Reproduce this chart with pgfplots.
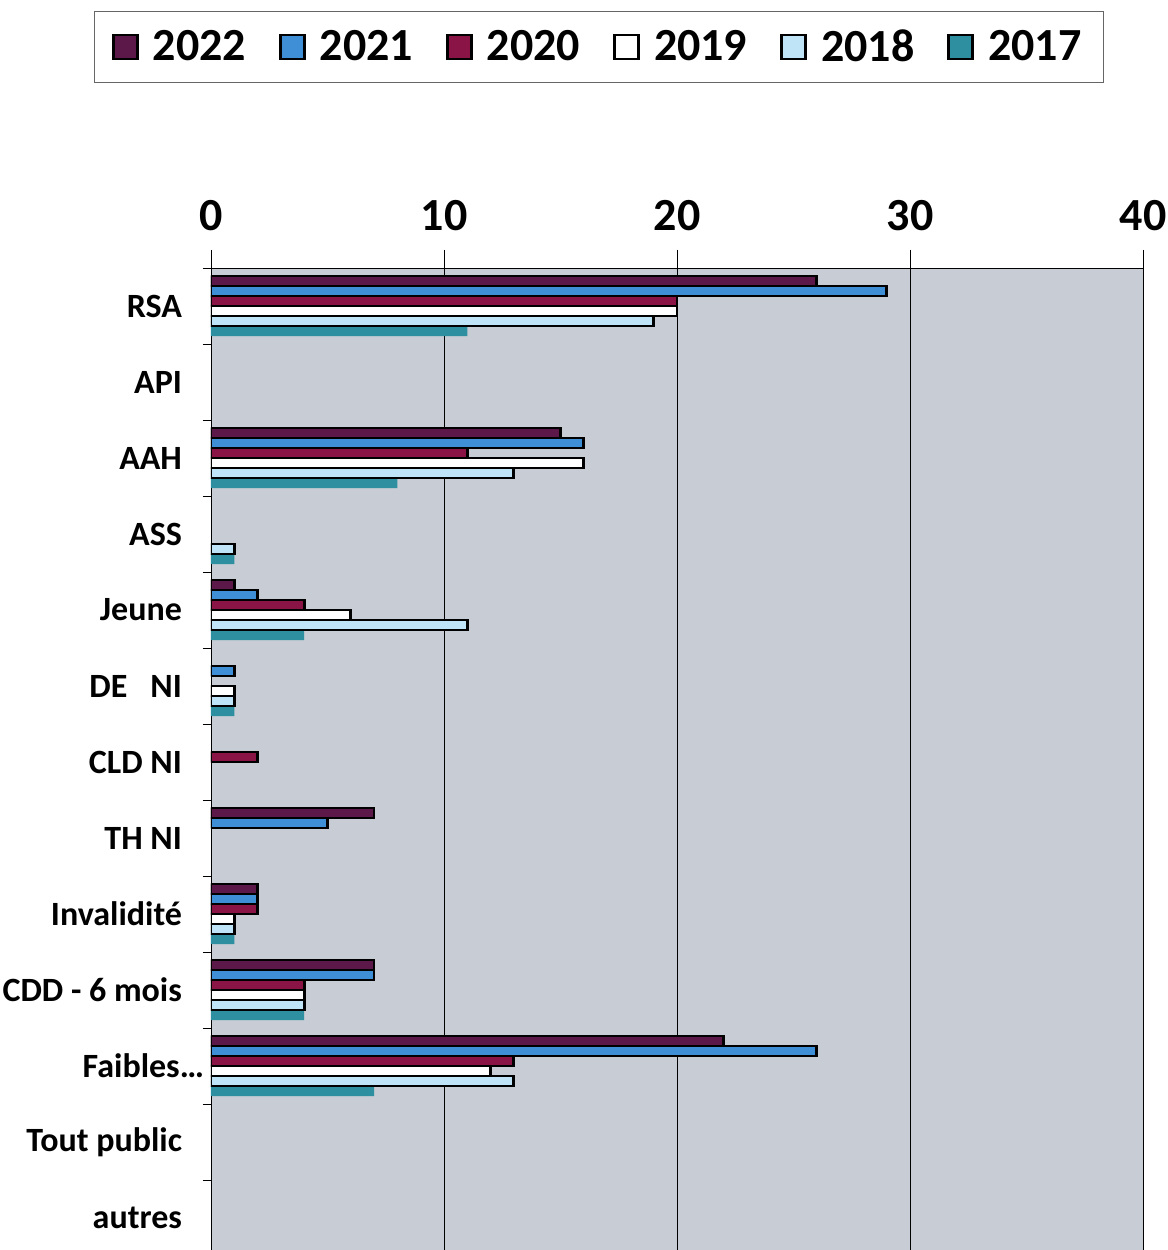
\documentclass[border=0pt]{standalone}
\usepackage{pgfplots}
\pgfplotsset{compat=1.18}
\usepackage{fontspec}
\setmainfont{Carlito}

\definecolor{c2022}{RGB}{92,24,72}
\definecolor{c2021}{RGB}{62,143,214}
\definecolor{c2020}{RGB}{138,20,70}
\definecolor{c2019}{RGB}{255,255,255}
\definecolor{c2018}{RGB}{191,227,247}
\definecolor{c2017}{RGB}{46,143,160}
\definecolor{plotbg}{RGB}{200,204,212}

\begin{document}
\begin{tikzpicture}
\path[use as bounding box] (0pt,0pt) rectangle (584pt,625pt);
\begin{axis}[
  at={(105.5pt,0pt)}, anchor=south west,
  width=466pt, height=491pt, scale only axis,
  xbar=0pt, bar width=5pt,
  xmin=0, xmax=40, ymin=-0.42, ymax=12.5,
  axis x line=top, axis y line=left,
  axis line style={-, black, thin},
  axis background/.style={fill=plotbg},
  xtick={0,10,20,30,40},
  xmajorgrids, grid style={black, thin},
  tick align=outside,
  major tick length=9pt, minor tick length=4pt,
  xticklabel style={font=\fontsize{23}{26}\selectfont\bfseries, yshift=6pt},
  /pgf/number format/assume math mode=true,
  ytick={0,...,12},
  yticklabels={autres, Tout public, Faibles…\kern-11pt, CDD - 6 mois, Invalidité, TH NI, CLD NI, DE\ \ \ NI, Jeune, ASS, AAH, API, RSA},
  yticklabel style={font=\fontsize{17}{20}\selectfont\bfseries, xshift=-2pt},
  major y tick style={draw=none},
  minor ytick={0.5,1.5,...,12.5},
  minor y tick style={black, thin},
  x tick style={black, thin},
  reverse legend,
  legend columns=6,
  legend style={at={(0.416,1.225)}, anchor=center, draw=black!60, fill=white,
    font=\fontsize{23}{26}\selectfont\bfseries, inner xsep=9pt, inner ysep=7pt,
    /tikz/every odd column/.append style={column sep=5pt},
    /tikz/every even column/.append style={column sep=14.5pt}},
  legend image code/.code={\draw[#1] (0pt,-6pt) rectangle (12pt,6pt);},
  every axis plot/.append style={line width=1.4pt},
]
% 2017
\addplot[fill=c2017, draw=none] coordinates {
  (11,12) (8,10) (1,9) (4,8) (1,7) (1,4) (4,3) (7,2)};
\addlegendentry{2017}
% 2018
\addplot[fill=c2018, draw=black] coordinates {
  (19,12) (13,10) (1,9) (11,8) (1,7) (1,4) (4,3) (13,2)};
\addlegendentry{2018}
% 2019
\addplot[fill=c2019, draw=black] coordinates {
  (20,12) (16,10) (6,8) (1,7) (1,4) (4,3) (12,2)};
\addlegendentry{2019}
% 2020
\addplot[fill=c2020, draw=black] coordinates {
  (20,12) (11,10) (4,8) (2,6) (2,4) (4,3) (13,2)};
\addlegendentry{2020}
% 2021
\addplot[fill=c2021, draw=black] coordinates {
  (29,12) (16,10) (2,8) (1,7) (5,5) (2,4) (7,3) (26,2)};
\addlegendentry{2021}
% 2022
\addplot[fill=c2022, draw=black] coordinates {
  (26,12) (15,10) (1,8) (7,5) (2,4) (7,3) (22,2)};
\addlegendentry{2022}
\end{axis}
\end{tikzpicture}
\end{document}
